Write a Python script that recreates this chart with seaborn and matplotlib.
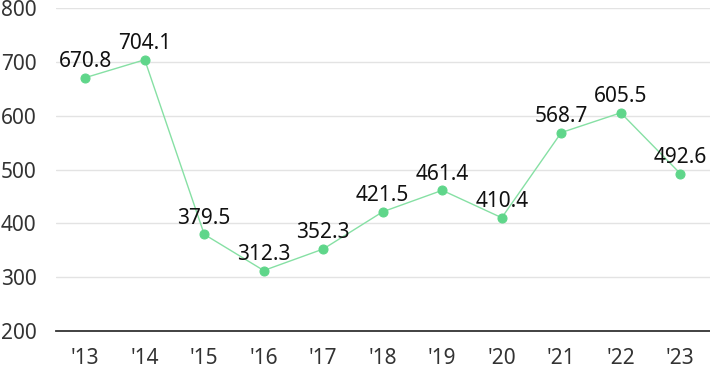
import matplotlib
matplotlib.use('Agg')
import matplotlib.pyplot as plt
import seaborn as sns
import pandas as pd

# Dados
anos = ["'13", "'14", "'15", "'16", "'17", "'18", "'19", "'20", "'21", "'22", "'23"]
valores = [670.8, 704.1, 379.5, 312.3, 352.3, 421.5, 461.4, 410.4, 568.7, 605.5, 492.6]
y_ticks = [200, 300, 400, 500, 600, 700, 800]

sns.set_style('white')
plt.rcParams['font.family'] = ['Noto Sans', 'DejaVu Sans']

df = pd.DataFrame({'pos': range(len(anos)), 'valor': valores})

fig = plt.figure(figsize=(7.1, 3.71), dpi=100)
ax = fig.add_axes([0.079, 0.108, 0.921, 0.870])

for t in y_ticks[1:]:
    ax.axhline(t, color='#e3e3e3', lw=1, zorder=0)

sns.lineplot(data=df, x='pos', y='valor', ax=ax, color='#86e0a4', lw=1,
             marker='o', markersize=6.5, markerfacecolor='#5fd68a',
             markeredgecolor='#5fd68a', zorder=3)

for i, v in enumerate(valores):
    ax.annotate(f'{v:.1f}', (i, v), xytext=(0, 4), textcoords='offset points',
                ha='center', va='bottom', fontsize=15, color='#111111', zorder=4)

ax.set_xlim(-0.49, 10.5)
ax.set_ylim(200, 800)
ax.set_xticks(range(len(anos)))
ax.set_xticklabels(anos)
ax.set_yticks(y_ticks)
ax.tick_params(axis='both', length=0, labelsize=15, labelcolor='#333333')
ax.tick_params(axis='y', pad=14)
ax.tick_params(axis='x', pad=12)
ax.set_xlabel('')
ax.set_ylabel('')

for s in ['top', 'right', 'left']:
    ax.spines[s].set_visible(False)
ax.spines['bottom'].set_color('#333333')
ax.spines['bottom'].set_linewidth(1.3)

fig.savefig('out.png', dpi=100)
